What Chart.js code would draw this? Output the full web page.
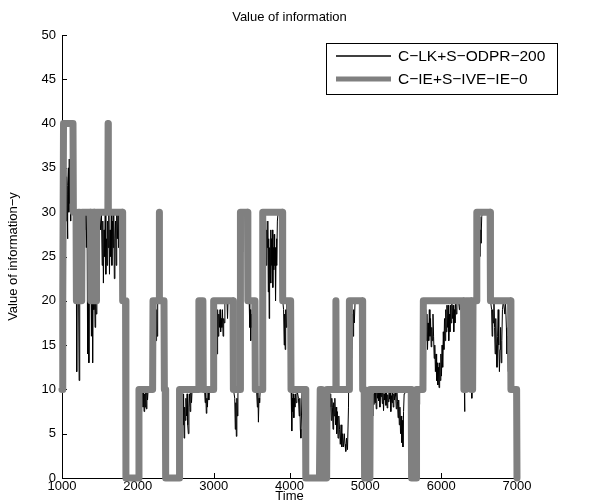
<!DOCTYPE html>
<html>
<head>
<meta charset="utf-8">
<script src="https://cdn.jsdelivr.net/npm/chart.js@4.4.1/dist/chart.umd.min.js"></script>
<style>
  html, body { margin: 0; padding: 0; background: #fff; }
</style>
</head>
<body>
<canvas id="voi-chart" width="589" height="502"></canvas>
<script>
// series labels as in the legend
const seriesLabels = ['C\u2212LK+S\u2212ODPR\u2212200', 'C\u2212IE+S\u2212IVE\u2212IE\u22120']

// tick values
const timeTicks = [1000, 2000, 3000, 4000, 5000, 6000, 7000]
const valueTicks = [0, 5, 10, 15, 20, 25, 30, 35, 40, 45, 50]

// black series: [time, value]
const odprSeries = [
  [1000,10],[1006,12],[1012,15],[1018,22],[1024,30],[1030,37],[1036,36],[1042,31],[1048,35],[1054,29],
  [1060,34],[1066,32],[1072,27],[1078,33],[1084,35],[1090,30],[1096,36],[1102,31],[1108,34],[1114,29],
  [1120,37],[1128,33],[1136,38],[1144,35],[1150,30],
  [1160,30],[1170,29],[1178,26],[1186,30],[1194,12],[1202,28],[1210,30],[1218,22],[1226,11],[1234,29],
  [1244,30],[1254,27],[1262,30],[1272,29],[1280,25],[1290,30],[1300,28],[1310,30],[1320,26],[1330,30],
  [1338,14],[1346,28],[1354,13],[1362,27],[1372,30],[1380,24],[1388,16],[1396,29],[1404,13],[1412,26],
  [1420,19],[1428,22],[1436,17],[1444,20],[1452,18.5],[1460,27],[1470,30],[1485,29],[1495,30],[1510,28],
  [1520,30],[1530,24],[1538,29],[1546,22],[1554,28],[1562,25],[1570,30],[1578,23],[1586,27],[1594,24],
  [1602,29],[1610,26],[1618,30],[1626,23],[1634,28],[1642,25],[1650,30],[1658,24],[1666,29],[1674,26],
  [1682,30],[1690,22.5],[1698,27],[1706,29],[1714,24],[1722,30],[1730,27],[1740,30],[1750,26],[1760,29],
  [1775,30],[1790,29],[1800,20],[1810,19.5],[1818,15],[1824,18],[1830,12],[1836,8],[1843,0],[2015,0],
  [2022,10],[2040,10],[2060,10],[2068,8],[2075,10],[2082,7.5],[2090,9.5],[2097,8],[2104,10],[2112,7.8],
  [2120,9.6],[2128,8.8],[2136,10],[2200,10],[2203,20],
  [2220,20],[2228,18],[2234,20],[2240,15.5],[2247,19],[2254,16],[2262,20],[2345,20],[2350,10],[2365,10],
  [2368,0],[2555,0],[2560,3],[2566,10],
  [2580,10],[2588,9],[2596,6],[2603,9.5],[2610,4.5],[2618,8],[2626,6.5],[2634,9],[2642,7],[2650,9.5],
  [2658,6],[2666,5],[2674,8],[2682,9.5],[2690,7.5],[2698,10],[2708,8.5],[2716,10],[2800,10],[2804,20],
  [2812,19],[2818,17.5],[2825,20],[2860,20],[2864,10],
  [2880,10],[2888,8.5],[2895,10],[2903,7.3],[2910,9],[2918,8],[2926,10],[2936,8.8],[2944,10],[2998,10],
  [3002,20],[3030,20],[3038,18],[3045,14],[3052,19],[3060,16],[3068,18.5],[3076,17],[3084,19],[3092,16.5],
  [3100,18],[3108,17],[3116,19],[3124,16],[3132,18],[3140,17.5],[3148,20],[3175,20],[3183,18],[3190,20],
  [3257,20],[3261,10],
  [3278,9],[3285,5.5],[3292,8.5],[3299,4.7],[3306,9],[3313,7],[3320,9.5],[3328,10],[3350,10],[3354,30],
  [3370,29],[3378,25.5],[3386,29.5],[3395,30],[3448,30],[3452,20],
  [3468,20],[3476,17],[3482,19],[3489,15.5],[3496,18.5],[3504,17],[3512,20],[3546,20],[3550,10],
  [3568,9.5],[3576,8],[3583,10],[3590,6.3],[3598,9],[3606,8.5],[3614,10],[3645,10],[3649,30],
  [3668,29],[3678,27],[3686,29],[3693,24],[3700,28],[3708,26],[3714,29],[3720,21],[3726,27],[3732,18],
  [3738,26],[3744,23],[3750,28],[3756,22],[3762,27],[3768,24],[3774,28],[3780,21.5],[3786,26],[3792,23.5],
  [3798,27.5],[3804,24],[3810,26],[3816,20],[3822,25],[3828,27],[3834,24],[3840,29],[3850,30],[3907,30],
  [3911,20],[3922,19],[3930,15],[3936,18.5],[3943,14.5],[3950,19],[3958,17],[3966,20],[4017,20],[4021,10],
  [4030,5.3],[4036,9],[4043,7.5],[4050,9.5],[4057,6.8],[4064,9],[4071,8],[4078,9.5],[4088,8.5],[4098,10],
  [4118,9],[4128,7],[4136,9],[4143,5.5],[4150,4.5],[4158,7],[4166,10],[4212,10],[4216,0],[4495,0],
  [4499,10],[4520,9.5],[4528,7.5],[4535,9.5],[4543,8],[4550,6.5],[4558,9],[4566,8],[4574,5.5],[4582,8.5],
  [4590,7],[4598,9],[4606,6],[4614,8],[4622,5],[4630,7.5],[4640,4.5],[4650,7],[4660,5.5],[4670,3.8],
  [4680,6],[4690,3.5],[4700,5],[4712,3.5],[4722,5],[4732,3.8],[4742,3],[4752,4.5],[4765,3.2],[4778,8],
  [4788,20],[4798,19],[4805,17],[4812,13.5],[4818,17],[4824,14.5],[4830,18.5],[4838,16],[4846,19],[4855,17.5],
  [4865,20],[4962,20],[4966,10],[4978,9],[4986,7.5],[4991,0],[5063,0],[5067,10],
  [5082,10],[5090,9.5],[5098,7],[5105,9.5],[5112,8.3],[5120,10],[5128,8.5],[5136,9.6],[5144,7.8],[5152,9.8],
  [5160,9],[5168,10],[5176,8.7],[5184,9.8],[5192,8],[5200,9.6],[5208,9.2],[5216,10],[5224,8.4],[5232,9.6],
  [5240,7.6],[5248,9.5],[5256,8.8],[5264,10],[5272,8.2],[5280,9.7],[5288,7.9],[5296,9.4],[5304,8.6],[5312,10],
  [5320,8.9],[5328,9.8],[5336,7.5],[5344,9.3],[5352,8.5],[5360,9.9],[5368,8],[5376,9.5],[5384,8.8],[5392,10],
  [5400,9.2],[5408,7.8],[5416,9.6],[5424,8.6],[5432,6.8],[5440,8.8],[5448,6],[5456,8],[5464,5],[5472,7],
  [5480,4],[5488,6.5],[5496,3.5],[5504,7.5],[5512,9.5],[5520,10],[5606,10],[5610,0],[5673,0],[5677,10],
  [5690,10],[5700,9],[5708,8.3],[5716,9.5],[5724,10],[5762,10],[5766,20],
  [5782,19.5],[5790,16],[5797,19],[5805,15.5],[5812,18.5],[5820,14.5],[5828,17.5],[5836,15.5],[5844,19],[5852,16],
  [5860,18],[5868,14.8],[5876,17],[5884,15.5],[5892,18.5],[5900,16],[5908,13.5],[5916,15],[5924,12],[5932,14],
  [5940,11],[5948,13],[5956,10.5],[5964,12.5],[5972,10.2],[5980,13],[5988,11],[5996,14],[6004,11.5],[6012,15],
  [6020,12.5],[6028,16.5],[6036,14.5],[6044,18],[6052,15.5],[6060,19],[6068,16.5],[6076,19.5],[6084,17],[6092,19.5],
  [6100,15.5],[6108,18.5],[6116,16.5],[6124,19.5],[6132,17.5],[6140,20],[6150,18],[6158,19.5],[6166,16.5],[6174,19],
  [6182,17.5],[6190,20],[6200,18.5],[6208,20],[6230,20],[6240,19],[6248,20],[6296,20],[6302,12],[6308,7.5],
  [6314,12],[6320,20],[6398,20],[6404,9],[6410,20],[6466,20],[6470,30],
  [6485,29],[6495,27],[6502,29.5],[6510,25],[6517,28],[6525,26.5],[6535,29.5],[6545,30],[6647,30],[6651,20],
  [6665,19],[6672,16],[6680,19],[6688,17.5],[6696,20],[6704,17],[6712,14],[6720,18],[6728,15],[6736,12.5],
  [6744,16],[6752,19],[6760,15],[6768,12],[6776,14.5],[6784,17],[6792,13],[6800,15.5],[6808,19],[6820,20],
  [6840,18.5],[6848,20],[6860,17],[6868,14],[6876,16],[6884,12],[6892,14],[6900,10.5],[6910,13],[6920,10],
  [6960,10],[6970,9],[6990,9.5],[7000,0]
]

// gray step series: [time, value]
const iveSeries = [
  [1000,10],[1010,20],[1020,40],[1145,40],[1150,30],
  [1185,30],[1190,20],[1210,20],[1215,30],[1235,30],[1240,20],[1260,20],[1265,30],
  [1375,30],[1380,20],[1400,20],[1405,30],[1425,30],[1430,20],[1450,20],[1455,30],
  [1605,30],[1608,40],[1611,30],
  [1795,30],[1800,20],[1838,20],[1843,0],[2010,0],[2015,10],[2195,10],[2200,20],
  [2280,20],[2283,30],[2286,20],[2345,20],[2350,10],[2362,10],[2367,0],[2545,0],[2550,10],
  [2800,10],[2805,20],[2858,20],[2863,10],[2995,10],[3000,20],[3255,20],[3260,10],
  [3348,10],[3353,30],[3446,30],[3451,20],[3544,20],[3549,10],[3642,10],[3647,30],
  [3905,30],[3910,20],[4015,20],[4020,10],[4210,10],[4215,0],[4395,0],[4405,10],[4425,10],[4435,0],
  [4490,0],[4495,10],[4608,10],[4612,20],[4616,10],[4785,10],[4790,20],[4960,20],[4965,10],[4985,10],
  [4990,0],[5060,0],[5065,10],[5605,10],[5610,0],[5670,0],[5675,10],[5760,10],[5765,20],
  [6295,20],[6300,10],[6320,10],[6325,20],[6395,20],[6400,10],[6415,10],[6420,20],
  [6465,20],[6470,30],[6645,30],[6650,20],[6915,20],[6920,10],[6995,10],[7000,0]
]

const toPoints = arr => arr.map(p => ({ x: p[0], y: p[1] }))

Chart.defaults.font.family = '"Liberation Sans", Arial, sans-serif'
Chart.defaults.font.size = 13
Chart.defaults.color = '#000'

const matlabBits = {
  id: 'matlabBits',
  beforeDatasetsDraw(chart) {
    const { ctx, chartArea: a, scales: { x, y } } = chart
    ctx.save()
    ctx.strokeStyle = '#000'
    ctx.lineWidth = 1
    ctx.beginPath()
    x.ticks.forEach(t => {
      const px = Math.round(x.getPixelForValue(t.value)) + 0.5
      ctx.moveTo(px, a.bottom)
      ctx.lineTo(px, a.bottom - 5)
    })
    y.ticks.forEach(t => {
      const py = Math.round(y.getPixelForValue(t.value)) + 0.5
      ctx.moveTo(a.left, py)
      ctx.lineTo(a.left + 5, py)
    })
    ctx.stroke()
    ctx.restore()
  },
  afterDraw(chart) {
    const ctx = chart.ctx
    const box = { x: 326.5, y: 43.5, w: 231, h: 51 }
    ctx.save()
    ctx.fillStyle = '#fff'
    ctx.fillRect(box.x, box.y, box.w, box.h)
    ctx.strokeStyle = '#000'
    ctx.lineWidth = 1
    ctx.strokeRect(box.x, box.y, box.w, box.h)
    const rows = [56, 79]
    chart.data.datasets.forEach((ds, i) => {
      ctx.strokeStyle = ds.borderColor
      ctx.lineWidth = ds.legendWidth
      ctx.beginPath()
      ctx.moveTo(336, rows[i])
      ctx.lineTo(391, rows[i])
      ctx.stroke()
      ctx.fillStyle = '#000'
      ctx.font = '15.5px "Liberation Sans", Arial, sans-serif'
      ctx.textBaseline = 'middle'
      ctx.textAlign = 'left'
      ctx.fillText(ds.label, 398, rows[i] + 1)
    })
    ctx.restore()
  }
}

new Chart(document.getElementById('voi-chart'), {
  type: 'line',
  data: {
    datasets: [
      {
        label: seriesLabels[0],
        data: toPoints(odprSeries),
        borderColor: '#000000',
        borderWidth: 1,
        legendWidth: 1.5,
        pointRadius: 0,
        tension: 0,
        order: 2,
        clip: false
      },
      {
        label: seriesLabels[1],
        data: toPoints(iveSeries),
        borderColor: '#808080',
        borderWidth: 7,
        legendWidth: 5,
        borderJoinStyle: 'round',
        borderCapStyle: 'round',
        pointRadius: 0,
        tension: 0,
        order: 1,
        clip: false
      }
    ]
  },
  options: {
    responsive: false,
    animation: false,
    events: [],
    layout: { padding: { top: 0, right: 72, bottom: 0, left: 0 } },
    scales: {
      x: {
        type: 'linear',
        min: 1000,
        max: 7000,
        afterBuildTicks: s => { s.ticks = timeTicks.map(v => ({ value: v })) },
        afterFit: s => { s.height = 24 },
        grid: { display: false, drawTicks: false },
        border: { display: true, color: '#000', width: 1 },
        ticks: { padding: 1, maxRotation: 0, callback: v => String(v) },
        title: { display: true, text: 'Time', padding: { top: 0, bottom: -2 } }
      },
      y: {
        min: 0,
        max: 50,
        afterBuildTicks: s => { s.ticks = valueTicks.map(v => ({ value: v })) },
        afterFit: s => { s.width = 62 },
        grid: { display: false, drawTicks: false },
        border: { display: true, color: '#000', width: 1 },
        ticks: { padding: 6, callback: v => String(v) },
        title: { display: true, text: 'Value of information\u2212y', padding: { top: 6, bottom: 0 } }
      }
    },
    plugins: {
      legend: { display: false },
      tooltip: { enabled: false },
      title: {
        display: true,
        fullSize: false,
        text: 'Value of information',
        font: { size: 13, weight: 'normal' },
        color: '#000',
        padding: { top: 10, bottom: 9.4 }
      }
    }
  },
  plugins: [matlabBits]
})
</script>
</body>
</html>
